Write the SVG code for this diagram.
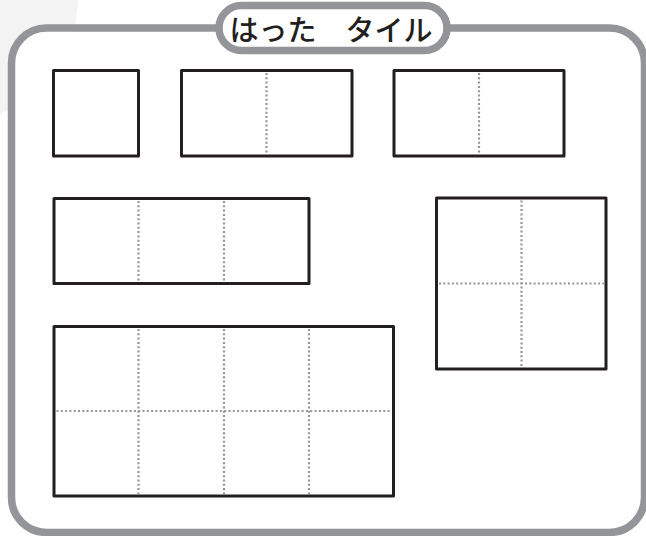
<svg xmlns="http://www.w3.org/2000/svg" width="646" height="536" viewBox="0 0 646 536">
  <style>
    .frame { fill: #ffffff; stroke: #939598; stroke-width: 7.5; }
    .tile { fill: #ffffff; stroke: #231f20; stroke-width: 3; stroke-linejoin: round; }
    .dot { fill: none; stroke: #939598; stroke-width: 2.2; stroke-linecap: butt; stroke-dasharray: 2 2.3; }
    .title { font-family: "Noto Sans CJK JP", "Noto Sans", sans-serif; font-size: 29px; font-weight: 500; fill: #231f20; }
  </style>
  <rect x="0" y="0" width="646" height="536" fill="#ffffff"/>
  <circle cx="-50" cy="-4" r="128" fill="#f3f3f4"/>
  <g id="frame">
    <rect class="frame" x="11.5" y="28" width="633" height="504.5" rx="35" ry="35"/>
  </g>
  <g id="title">
    <rect x="219" y="5.5" width="228" height="45" rx="22.5" ry="22.5" fill="#ffffff" stroke="#939598" stroke-width="7.5"/>
    <text class="title" x="331" y="28" text-anchor="middle" dominant-baseline="central">はった　タイル</text>
  </g>
  <g id="tile-1x1">
    <rect class="tile" x="53.5" y="70.5" width="85" height="85.5"/>
  </g>
  <g id="tile-2x1-a">
    <rect class="tile" x="181.5" y="70.5" width="170.5" height="85.5"/>
    <line class="dot" x1="266.5" y1="73" x2="266.5" y2="154"/>
  </g>
  <g id="tile-2x1-b">
    <rect class="tile" x="394" y="70.5" width="170" height="85.5"/>
    <line class="dot" x1="479" y1="73" x2="479" y2="154"/>
  </g>
  <g id="tile-3x1">
    <rect class="tile" x="54" y="198.5" width="255" height="85"/>
    <line class="dot" x1="138.5" y1="201" x2="138.5" y2="282"/>
    <line class="dot" x1="224" y1="201" x2="224" y2="282"/>
  </g>
  <g id="tile-2x2">
    <rect class="tile" x="436.5" y="198" width="169.5" height="171"/>
    <line class="dot" x1="521.5" y1="200.5" x2="521.5" y2="367"/>
    <line class="dot" x1="439" y1="283.5" x2="604" y2="283.5"/>
  </g>
  <g id="tile-4x2">
    <rect class="tile" x="54" y="326.5" width="339.5" height="169.5"/>
    <line class="dot" x1="138.5" y1="329" x2="138.5" y2="494"/>
    <line class="dot" x1="224" y1="329" x2="224" y2="494"/>
    <line class="dot" x1="309" y1="329" x2="309" y2="494"/>
    <line class="dot" x1="56.5" y1="411" x2="391" y2="411"/>
  </g>
  <g id="connectors"/>
</svg>
